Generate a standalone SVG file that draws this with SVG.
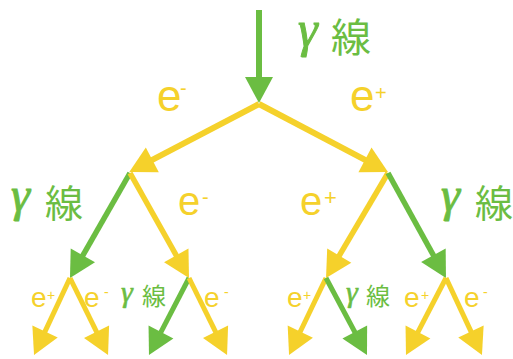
<svg xmlns="http://www.w3.org/2000/svg" width="513" height="359" viewBox="0 0 513 359">
<style>
.y{fill:#f5d12b;font-family:"Liberation Sans",Arial,sans-serif}
.g{fill:#6bbd42;font-family:"Noto Sans CJK JP","Noto Sans",sans-serif}
.gm{font-family:"Liberation Serif",serif;font-style:italic}
.ly{stroke:#f5d12b;fill:none}
.lg{stroke:#6bbd42;fill:none}
</style>
<defs>
<marker id="hy" markerUnits="userSpaceOnUse" orient="auto" markerWidth="40" markerHeight="40" refX="0" refY="0" viewBox="-10 -20 40 40" overflow="visible"><path d="M-6,-14 L20,0 L-6,14 z" fill="#f5d12b"/></marker>
<marker id="hg" markerUnits="userSpaceOnUse" orient="auto" markerWidth="40" markerHeight="40" refX="0" refY="0" viewBox="-10 -20 40 40" overflow="visible"><path d="M-6,-14 L20,0 L-6,14 z" fill="#6bbd42"/></marker>
</defs>
<g id="labels">
<g id="lbl-gamma-top"><text class="g" x="298" y="46" font-size="50"><tspan class="gm" stroke="#6bbd42" stroke-width="1">γ</tspan></text><text class="g" x="331" y="52" font-size="40">線</text></g>
<g id="lbl-e-minus-1"><text class="y" x="157" y="111" font-size="44">e</text><text class="y" x="180" y="95" font-size="20">-</text></g>
<g id="lbl-e-plus-1"><text class="y" x="350" y="111" font-size="44">e</text><text class="y" x="375" y="100" font-size="20">+</text></g>
<g id="lbl-gamma-2a"><text class="g" x="11" y="211" font-size="48"><tspan class="gm" stroke="#6bbd42" stroke-width="1">γ</tspan></text><text class="g" x="45" y="217" font-size="38">線</text></g>
<g id="lbl-e-minus-2"><text class="y" x="178" y="215" font-size="40">e</text><text class="y" x="202" y="204" font-size="20">-</text></g>
<g id="lbl-e-plus-2"><text class="y" x="300" y="215" font-size="40">e</text><text class="y" x="324" y="205" font-size="22">+</text></g>
<g id="lbl-gamma-2b"><text class="g" x="441" y="211" font-size="48"><tspan class="gm" stroke="#6bbd42" stroke-width="1">γ</tspan></text><text class="g" x="475" y="217" font-size="38">線</text></g>
<g id="lbl-b1"><text class="y" x="31" y="307" font-size="28">e</text><text class="y" x="47" y="300" font-size="14">+</text></g>
<g id="lbl-b2"><text class="y" x="84" y="307" font-size="28">e</text><text class="y" x="104" y="297" font-size="14">-</text></g>
<g id="lbl-b3"><text class="g" x="121" y="302" font-size="30"><tspan class="gm" stroke="#6bbd42" stroke-width="0.6">γ</tspan></text><text class="g" x="142" y="305" font-size="24">線</text></g>
<g id="lbl-b4"><text class="y" x="204" y="307" font-size="28">e</text><text class="y" x="224" y="297" font-size="14">-</text></g>
<g id="lbl-b5"><text class="y" x="287" y="307" font-size="28">e</text><text class="y" x="303" y="300" font-size="14">+</text></g>
<g id="lbl-b6"><text class="g" x="346" y="302" font-size="30"><tspan class="gm" stroke="#6bbd42" stroke-width="0.6">γ</tspan></text><text class="g" x="366" y="305" font-size="24">線</text></g>
<g id="lbl-b7"><text class="y" x="404" y="307" font-size="28">e</text><text class="y" x="421" y="300" font-size="14">+</text></g>
<g id="lbl-b8"><text class="y" x="464" y="307" font-size="28">e</text><text class="y" x="483" y="297" font-size="14">-</text></g>
</g>
<g id="connectors">
<line class="lg" stroke-width="6" x1="259" y1="10" x2="259" y2="83" marker-end="url(#hg)"/>
<line class="ly" stroke-width="6" x1="259" y1="104" x2="147" y2="162.7" marker-end="url(#hy)"/>
<line class="ly" stroke-width="6" x1="259" y1="104" x2="370.3" y2="162.7" marker-end="url(#hy)"/>
<line class="lg" stroke-width="5.5" x1="130" y1="173" x2="79.9" y2="260.6" marker-end="url(#hg)"/>
<line class="ly" stroke-width="5.5" x1="130" y1="173" x2="179.2" y2="260.6" marker-end="url(#hy)"/>
<line class="ly" stroke-width="5.5" x1="388" y1="173" x2="336.2" y2="260.8" marker-end="url(#hy)"/>
<line class="lg" stroke-width="5.5" x1="388" y1="173" x2="436.3" y2="260.5" marker-end="url(#hg)"/>
<line class="ly" stroke-width="5" x1="70" y1="278" x2="42.5" y2="336.9" marker-end="url(#hy)"/>
<line class="ly" stroke-width="5" x1="70" y1="278" x2="99.2" y2="337.1" marker-end="url(#hy)"/>
<line class="lg" stroke-width="5" x1="189" y1="278" x2="158.2" y2="337.3" marker-end="url(#hg)"/>
<line class="ly" stroke-width="5" x1="189" y1="278" x2="218.2" y2="337.1" marker-end="url(#hy)"/>
<line class="ly" stroke-width="5" x1="326" y1="278" x2="297.7" y2="337" marker-end="url(#hy)"/>
<line class="lg" stroke-width="5" x1="326" y1="278" x2="357.6" y2="337.3" marker-end="url(#hg)"/>
<line class="ly" stroke-width="5" x1="446" y1="278" x2="415.2" y2="337.3" marker-end="url(#hy)"/>
<line class="ly" stroke-width="5" x1="446" y1="278" x2="473.5" y2="336.9" marker-end="url(#hy)"/>
</g>
</svg>
